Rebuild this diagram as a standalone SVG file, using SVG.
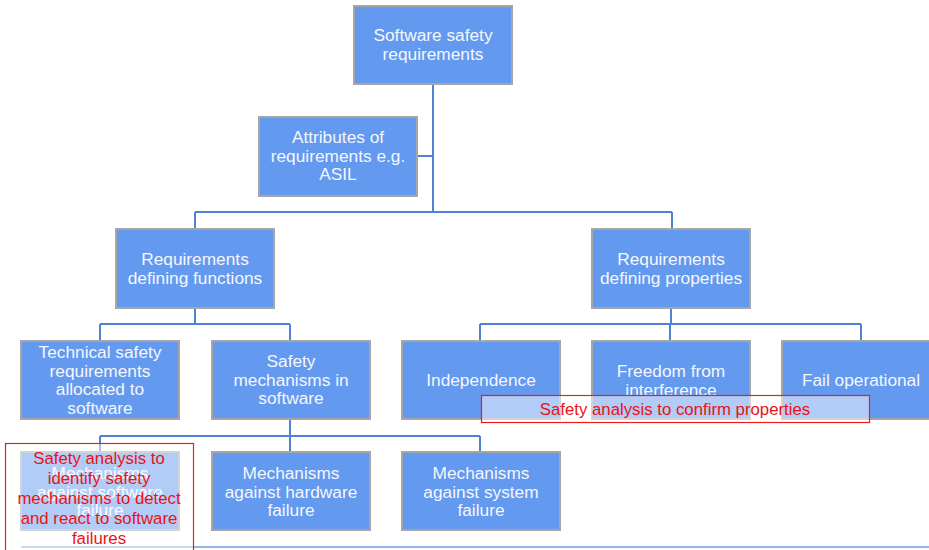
<svg xmlns="http://www.w3.org/2000/svg" width="929" height="550" viewBox="0 0 929 550">
<style>
.node rect{fill:#6399ee;stroke:#a6a6a6;stroke-width:2}
.node text{fill:#f4f7ff;font-family:"Liberation Sans",Arial,sans-serif;font-size:17.3px;text-anchor:middle}
.conn{fill:none;stroke:#4f81d4;stroke-width:2}
.note rect{fill:#ffffff;fill-opacity:0.5;stroke:#ee1c1c;stroke-width:1.2}
.note text{fill:#ee1111;font-family:"Liberation Sans",Arial,sans-serif;font-size:16.8px;text-anchor:middle}
</style>
<rect width="929" height="550" fill="#ffffff"/>
<g id="connectors">
<path class="conn" d="M433 84V212M417 156H433M195 212H672M195 212V229M672 212V229"/>
<path class="conn" d="M195 308V324M100 324H290M100 324V341M290 324V341"/>
<path class="conn" d="M671 308V324M480 324H861M480 324V341M670 324V341M861 324V341"/>
<path class="conn" d="M290 419V436M100 436H480M100 436V452M290 436V452M480 436V452"/>
<path d="M21 547H929" stroke="#6f9be0" stroke-width="1.5" fill="none"/>
</g>
<g id="n-root" class="node"><rect x="354" y="6" width="158" height="78"/><text x="433" y="41">Software safety</text><text x="433" y="59.5">requirements</text></g>
<g id="n-attr" class="node"><rect x="259" y="117" width="158" height="79"/><text x="338" y="143">Attributes of</text><text x="338" y="161.5">requirements e.g.</text><text x="338" y="180">ASIL</text></g>
<g id="n-func" class="node"><rect x="116" y="229" width="158" height="79"/><text x="195" y="265">Requirements</text><text x="195" y="283.5">defining functions</text></g>
<g id="n-prop" class="node"><rect x="592" y="229" width="158" height="79"/><text x="671" y="265">Requirements</text><text x="671" y="283.5">defining properties</text></g>
<g id="n-tech" class="node"><rect x="21" y="341" width="158" height="78"/><text x="100" y="358">Technical safety</text><text x="100" y="376.5">requirements</text><text x="100" y="395">allocated to</text><text x="100" y="413.5">software</text></g>
<g id="n-mech" class="node"><rect x="212" y="341" width="158" height="78"/><text x="291" y="367">Safety</text><text x="291" y="385.5">mechanisms in</text><text x="291" y="404">software</text></g>
<g id="n-indep" class="node"><rect x="402" y="341" width="158" height="78"/><text x="481" y="386">Independence</text></g>
<g id="n-ffi" class="node"><rect x="592" y="341" width="158" height="78"/><text x="671" y="377">Freedom from</text><text x="671" y="395.5">interference</text></g>
<g id="n-failop" class="node"><rect x="782" y="341" width="158" height="78"/><text x="861" y="386">Fail operational</text></g>
<g id="n-sw" class="node"><rect x="21" y="452" width="158" height="78"/><text x="100" y="479">Mechanisms</text><text x="100" y="497.5">against software</text><text x="100" y="516">failure</text></g>
<g id="n-hw" class="node"><rect x="212" y="452" width="158" height="78"/><text x="291" y="479">Mechanisms</text><text x="291" y="497.5">against hardware</text><text x="291" y="516">failure</text></g>
<g id="n-sys" class="node"><rect x="402" y="452" width="158" height="78"/><text x="481" y="479">Mechanisms</text><text x="481" y="497.5">against system</text><text x="481" y="516">failure</text></g>
<g id="note-sw" class="note"><rect x="5.5" y="443.5" width="188" height="120"/><text x="99" y="464">Safety analysis to</text><text x="99" y="484">identify safety</text><text x="99" y="504">mechanisms to detect</text><text x="99" y="523.5">and react to software</text><text x="99" y="544">failures</text></g>
<g id="note-prop" class="note"><rect x="481.5" y="395.5" width="388" height="27"/><text x="675" y="415">Safety analysis to confirm properties</text></g>
</svg>
